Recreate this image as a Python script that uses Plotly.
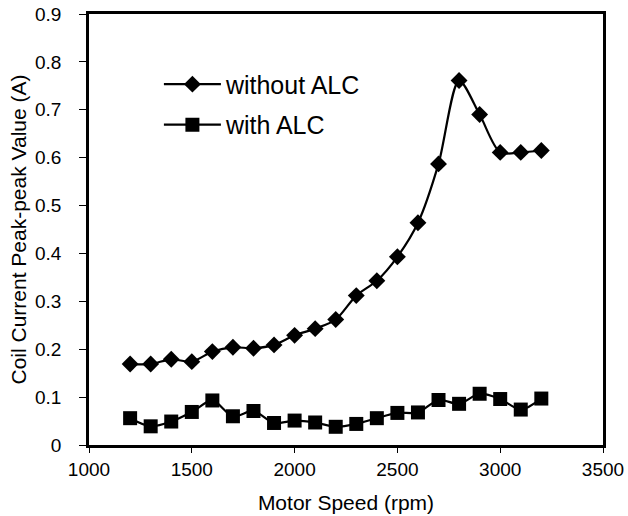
import plotly.graph_objects as go

speed = [1200, 1300, 1400, 1500, 1600, 1700, 1800, 1900, 2000, 2100, 2200,
         2300, 2400, 2500, 2600, 2700, 2800, 2900, 3000, 3100, 3200]
without_alc = [0.169, 0.169, 0.179, 0.174, 0.195, 0.204, 0.202, 0.209, 0.229, 0.243, 0.262,
               0.312, 0.343, 0.393, 0.464, 0.587, 0.761, 0.690, 0.611, 0.611, 0.615]
with_alc = [0.056, 0.039, 0.049, 0.069, 0.093, 0.060, 0.071, 0.046, 0.051, 0.047, 0.038,
            0.044, 0.056, 0.067, 0.068, 0.094, 0.086, 0.107, 0.096, 0.074, 0.097]

x_ticks = [1000, 1500, 2000, 2500, 3000, 3500]
y_ticks = [0, 0.1, 0.2, 0.3, 0.4, 0.5, 0.6, 0.7, 0.8, 0.9]
y_tick_text = ["0", "0.1", "0.2", "0.3", "0.4", "0.5", "0.6", "0.7", "0.8", "0.9"]

FONT = "Liberation Sans, Arial, sans-serif"

fig = go.Figure()
fig.add_trace(go.Scatter(
    x=speed, y=without_alc, name="without ALC", mode="lines+markers", legendgroup="a",
    line=dict(color="black", width=2.2, shape="spline", smoothing=0.8),
    marker=dict(symbol="diamond", size=13, color="black"),
))
fig.add_trace(go.Scatter(
    x=speed, y=with_alc, name="with ALC", mode="lines+markers", legendgroup="b",
    line=dict(color="black", width=2.2, shape="spline", smoothing=0.8),
    marker=dict(symbol="square", size=14, color="black"),
))

fig.update_layout(
    width=628, height=516,
    margin=dict(l=89, r=25, t=14, b=71),
    paper_bgcolor="white", plot_bgcolor="white",
    font=dict(family=FONT, color="black"),
    showlegend=True,
    legend=dict(x=0.136, y=0.89, xanchor="left", yanchor="top",
                bgcolor="rgba(0,0,0,0)", font=dict(size=25, family=FONT),
                itemwidth=57, tracegroupgap=5),
    xaxis=dict(range=[1000, 3500], tickvals=x_ticks, showgrid=False, zeroline=False,
               showline=True, linecolor="black", linewidth=2.5, mirror=True,
               ticks="outside", ticklen=5, tickwidth=1, tickcolor="black",
               tickfont=dict(size=19, family=FONT), automargin=False,
               title=dict(text="Motor Speed (rpm)", font=dict(size=21, family=FONT), standoff=17)),
    yaxis=dict(range=[0, 0.9], tickvals=y_ticks, ticktext=y_tick_text, showgrid=False,
               zeroline=False, showline=True, linecolor="black", linewidth=2.5, mirror=True,
               ticks="outside", ticklen=7, tickwidth=1, tickcolor="black",
               tickfont=dict(size=19, family=FONT), automargin=False, ticklabelstandoff=14,
               title=dict(text="Coil Current Peak-peak Value (A)", font=dict(size=21, family=FONT),
                          standoff=3)),
    xaxis2=dict(overlaying="x", range=[1000, 3500], tickvals=x_ticks, showticklabels=False,
                ticks="inside", ticklen=5, tickwidth=1, tickcolor="black", showgrid=False,
                zeroline=False, showline=False, side="bottom", automargin=False),
)
fig.write_html("out.html", config={"displayModeBar": False},
               post_script="document.body.style.margin='0';")
